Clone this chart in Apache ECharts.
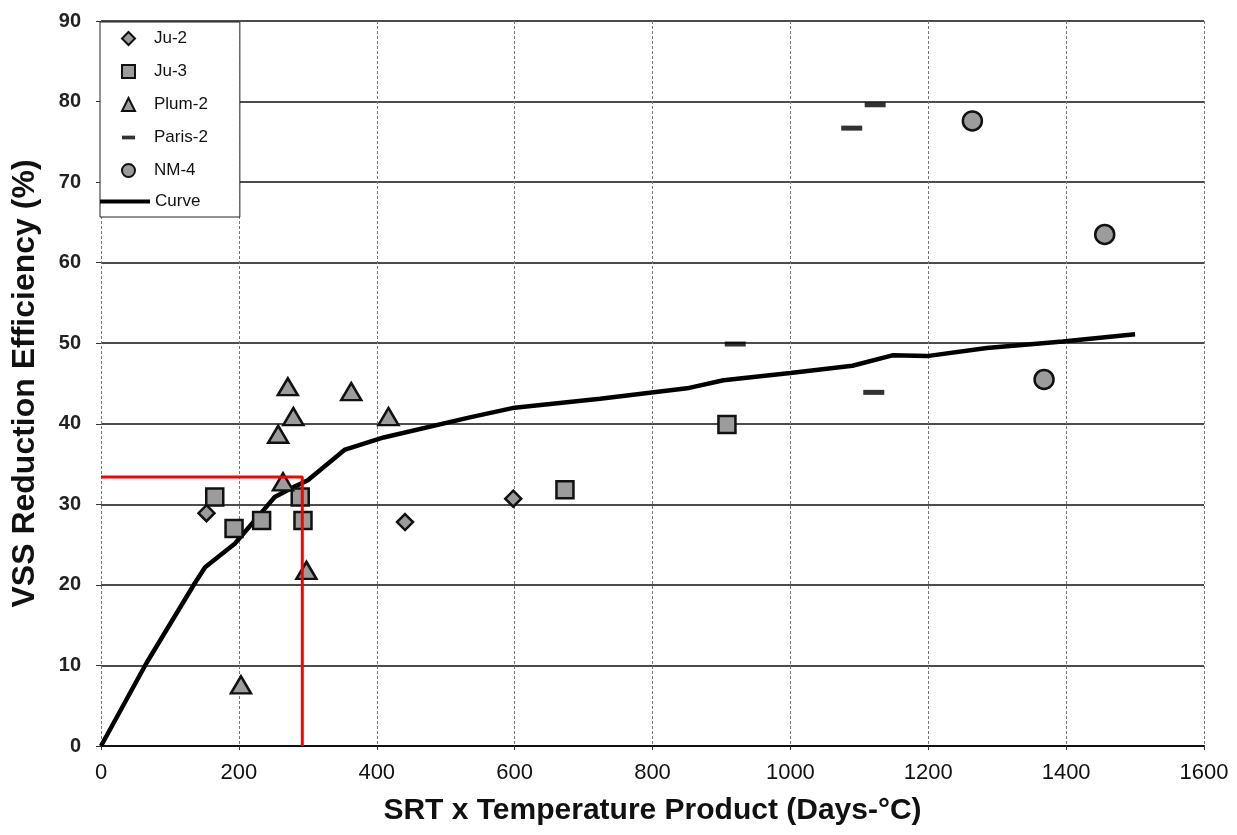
<!DOCTYPE html>
<html><head><meta charset="utf-8">
<script src="https://cdn.jsdelivr.net/npm/echarts@6/dist/echarts.min.js"></script>
<style>html,body{margin:0;padding:0;background:#fff}#c{width:1237px;height:835px}</style>
</head><body><div id="c"></div>
<script>
// ---- data ----
const xTicks = [0, 200, 400, 600, 800, 1000, 1200, 1400, 1600];
const yTicks = [0, 10, 20, 30, 40, 50, 60, 70, 80, 90];
const seriesNames = ['Ju-2', 'Ju-3', 'Plum-2', 'Paris-2', 'NM-4', 'Curve'];
const ju2 = [[153, 28.9], [441, 27.8], [598, 30.7]];
const ju3 = [[165, 30.9], [193, 27.0], [233, 28.0], [289, 30.9], [293, 28.0], [673, 31.8], [908, 39.9]];
const plum2 = [[271, 44.6], [363, 44.0], [279, 40.9], [417, 40.9], [257, 38.7], [264, 32.8], [298, 21.8], [203, 7.6]];
const paris2 = [[1089, 76.7], [1123, 79.6], [920, 49.9], [1121, 43.9]];
const nm4 = [[1264, 77.6], [1456, 63.5], [1368, 45.5]];
const curve = [[0, 0], [66, 10.3], [136, 20.2], [151, 22.2], [194, 25.1], [233, 29.0], [252, 30.9], [281, 32.2],
  [300, 33.0], [354, 36.8], [410, 38.3], [535, 40.8], [600, 42.0], [724, 43.1], [850, 44.4], [903, 45.4],
  [1000, 46.3], [1090, 47.2], [1148, 48.5], [1198, 48.4], [1285, 49.4], [1395, 50.2], [1500, 51.1]];
const refLine = [[0, 33.4], [292, 33.4], [292, 0]];

// ---- styling ----
const FONT = 'Liberation Sans, Arial, sans-serif';
const markerFill = '#9c9c9c';
const markerStroke = '#111';

const chart = echarts.init(document.getElementById('c'), null, { renderer: 'canvas' });

function scatter(name, data, symbol, size) {
  return {
    name, type: 'scatter', data, symbol, symbolSize: size, z: 4,
    itemStyle: { color: markerFill, borderColor: markerStroke, borderWidth: 2.5, opacity: 1 },
    emphasis: { disabled: true }
  };
}

const legendText = { fontFamily: FONT, fontSize: 17, color: '#111' };

const option = {
  backgroundColor: '#fff',
  animation: false,
  grid: { left: 101, right: 33, top: 21, bottom: 89, containLabel: false },
  legend: [
    {
      data: [
        { name: seriesNames[0], icon: 'diamond' },
        { name: seriesNames[1], icon: 'rect' },
        { name: seriesNames[2], icon: 'triangle' },
        { name: seriesNames[3], icon: 'path://M0,0h14v4h-14z' },
        { name: seriesNames[4], icon: 'circle' }
      ],
      orient: 'vertical', left: 100, top: 22,
      itemWidth: 13, itemHeight: 13, itemGap: 16,
      padding: [8, 32, 38, 21],
      backgroundColor: '#fff', borderColor: '#222', borderWidth: 1,
      textStyle: Object.assign({ padding: [0, 0, 0, 14] }, legendText),
      selectedMode: false, z: 10
    },
    {
      data: [{ name: seriesNames[5], icon: 'path://M0,0h50v4h-50z', itemStyle: { color: '#000' } }],
      orient: 'vertical', left: 100, top: 193, padding: 0,
      itemWidth: 50, itemHeight: 13,
      textStyle: legendText,
      selectedMode: false, z: 11
    }
  ],
  xAxis: {
    type: 'value', min: xTicks[0], max: xTicks[xTicks.length - 1], interval: xTicks[1] - xTicks[0],
    name: 'SRT x Temperature Product (Days-°C)', nameLocation: 'middle', nameGap: 50,
    nameTextStyle: { fontFamily: FONT, fontSize: 30, fontWeight: 'bold', color: '#111' },
    axisLine: { show: true, lineStyle: { color: '#111', width: 2 } },
    axisTick: { show: true, length: 4, lineStyle: { color: '#333' } },
    axisLabel: { fontFamily: FONT, fontSize: 22, color: '#111', margin: 16, formatter: v => String(v) },
    splitLine: { show: true, lineStyle: { color: '#777', width: 1, type: [3, 2] } }
  },
  yAxis: {
    type: 'value', min: yTicks[0], max: yTicks[yTicks.length - 1], interval: yTicks[1] - yTicks[0],
    name: 'VSS Reduction Efficiency (%)', nameLocation: 'middle', nameGap: 60,
    nameTextStyle: { fontFamily: FONT, fontSize: 32, fontWeight: 'bold', color: '#111' },
    axisLine: { show: false },
    axisTick: { show: true, length: 5, lineStyle: { color: '#333' } },
    axisLabel: { fontFamily: FONT, fontSize: 20, fontWeight: 'bold', color: '#222', margin: 20 },
    splitLine: { show: true, lineStyle: { color: '#111', width: 1.5 } }
  },
  series: [
    scatter(seriesNames[0], ju2, 'diamond', 16),
    scatter(seriesNames[1], ju3, 'rect', 17),
    scatter(seriesNames[2], plum2, 'triangle', [20, 17]),
    {
      name: seriesNames[3], type: 'scatter', data: paris2, symbol: 'rect', symbolSize: [21, 5], z: 4,
      itemStyle: { color: '#000', borderWidth: 0 }, emphasis: { disabled: true }
    },
    scatter(seriesNames[4], nm4, 'circle', 19),
    {
      name: seriesNames[5], type: 'line', data: curve, symbol: 'none', smooth: false, z: 3,
      lineStyle: { color: '#000', width: 4.5 }, itemStyle: { color: '#000' }, emphasis: { disabled: true }
    },
    {
      name: 'Marker', type: 'line', data: refLine, symbol: 'none', z: 5,
      lineStyle: { color: '#ff0000', width: 3 }, emphasis: { disabled: true }
    }
  ]
};
chart.setOption(option);
</script>
</body></html>
